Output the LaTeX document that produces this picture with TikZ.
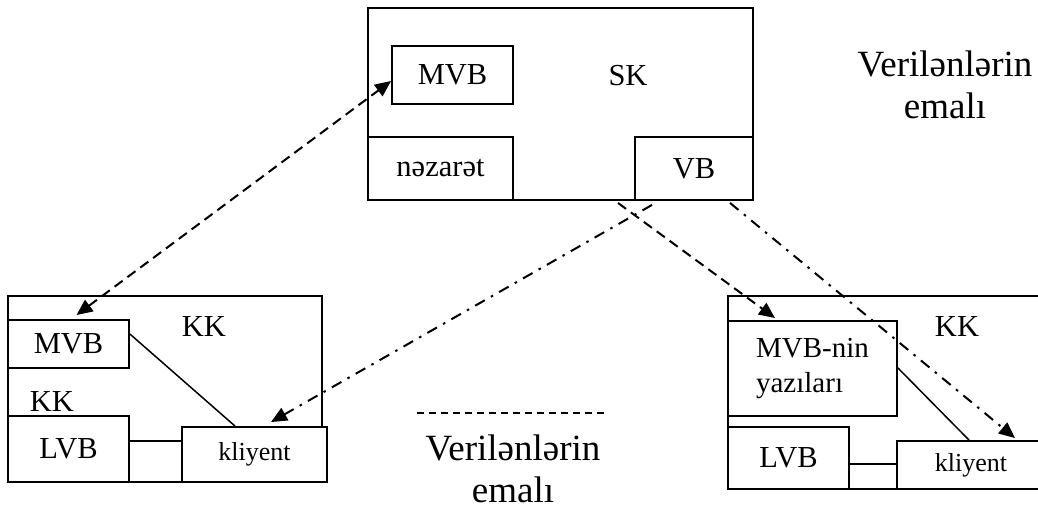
\documentclass[tikz,border=0pt]{standalone}
\usepackage{fontspec}
\setmainfont{Liberation Serif}
\usetikzlibrary{arrows.meta}
\begin{document}
\begin{tikzpicture}[x=1pt,y=-1pt,
  box/.style={draw, line width=1.9pt, fill=white, inner sep=0pt, font=\fontsize{30.5}{36}\selectfont},
  lbl/.style={inner sep=0pt, font=\fontsize{30.5}{36}\selectfont},
  big/.style={inner sep=0pt, anchor=base, font=\fontsize{37}{42}\selectfont},
  small/.style={font=\fontsize{26}{30}\selectfont},
  tipend/.style={-{Triangle[length=16pt,width=14pt]}},
  tipboth/.style={{Triangle[length=16pt,width=14pt]}-{Triangle[length=16pt,width=14pt]}},
  dashline/.style={line width=2pt, dash pattern=on 10pt off 6pt},
  dotline/.style={line width=2pt, dash pattern=on 11pt off 7pt on 2.5pt off 7pt},
  thinline/.style={line width=1.5pt},
]
\useasboundingbox (0,0) rectangle (1038,508);
\clip (0,0) rectangle (1038,508);

% top SK box
\node[box, minimum width=385pt, minimum height=192pt] (sk) at (560.5,104) {};
\node[lbl] (sklabel) at (628,76) {SK};
\node[box, minimum width=121pt, minimum height=58pt] (smvb) at (452.5,75) {MVB\hspace{6pt}};
\node[box, minimum width=145pt, minimum height=63pt] (nazarat) at (440.5,168.5) {nəzarət\hspace{9pt}};
\node[box, minimum width=118pt, minimum height=63pt] (vb) at (694,168.5) {VB\hspace{32pt}};

% right text
\node[big] (vt1) at (945,77) {Verilənlərin};
\node[big] (vt2) at (945,119) {emalı};

% left KK
\node[box, minimum width=314pt, minimum height=186pt] (lkk) at (165,389) {};
\node[lbl] (lkklabel) at (204,327) {KK};
\node[lbl] (lkklabel2) at (52,402) {KK};
\node[box, minimum width=121pt, minimum height=48pt] (lmvb) at (68.5,344) {MVB\hspace{6pt}};
\node[box, minimum width=121pt, minimum height=66pt] (llvb) at (68.5,449) {LVB\hspace{17pt}};
\node[box, small, minimum width=145pt, minimum height=55pt] (lkl) at (254.5,454.5) {kliyent\hspace{31pt}};
\draw[thinline] ([yshift=-15pt]lmvb.north east) -- ([xshift=-19.5pt]lkl.north);
\draw[thinline] ([yshift=8pt]llvb.east) -- ([yshift=8pt]llvb.east -| lkl.west);

% right KK
\coordinate (rk1) at (1045,296);
\coordinate (rk2) at (728,296);
\coordinate (rk3) at (728,489);
\coordinate (rk4) at (1045,489);
\draw[line width=1.9pt] (rk1) -- (rk2) -- (rk3) -- (rk4);
\node[lbl] (rkklabel) at (957,327) {KK};
\node[box, minimum width=169pt, minimum height=95pt, align=left, font=\fontsize{29}{35}\selectfont] (rmvb) at (812.5,368.5) {MVB-nin\\yazıları};
\node[box, minimum width=121pt, minimum height=62pt] (rlvb) at (788.5,458) {LVB\hspace{17pt}};
\node[box, small, minimum width=148pt, minimum height=48pt] (rkl) at (971,465) {kliyent\hspace{6pt}};
\draw[thinline] ([yshift=0.5pt]rmvb.east) -- ([xshift=-2pt]rkl.north);
\draw[thinline] ([yshift=-6pt]rlvb.east) -- ([yshift=-6pt]rlvb.east -| rkl.west);

% bottom middle text
\coordinate (sep1) at (417,413);
\coordinate (sep2) at (607,413);
\draw[line width=1.2pt, dash pattern=on 7pt off 5pt] (sep1) -- (sep2);
\node[big] (vb1) at (513,460) {Verilənlərin};
\node[big] (vb2) at (513,502) {emalı};

% connectors
\draw[dashline, tipboth] ([xshift=8pt, yshift=4pt]lmvb.north) -- ([yshift=-6pt]smvb.west);
\draw[dashline, tipend] ([xshift=57.5pt, yshift=-2pt]sk.south) -- ([xshift=-37.5pt, yshift=2pt]rmvb.north);
\draw[dotline, tipend] ([xshift=91.5pt, yshift=-4pt]sk.south) -- ([xshift=16.5pt, yshift=4pt]lkl.north);
\draw[dotline, tipend] ([xshift=169.5pt, yshift=-2pt]sk.south) -- ([xshift=44pt, yshift=2pt]rkl.north);
\end{tikzpicture}
\end{document}
